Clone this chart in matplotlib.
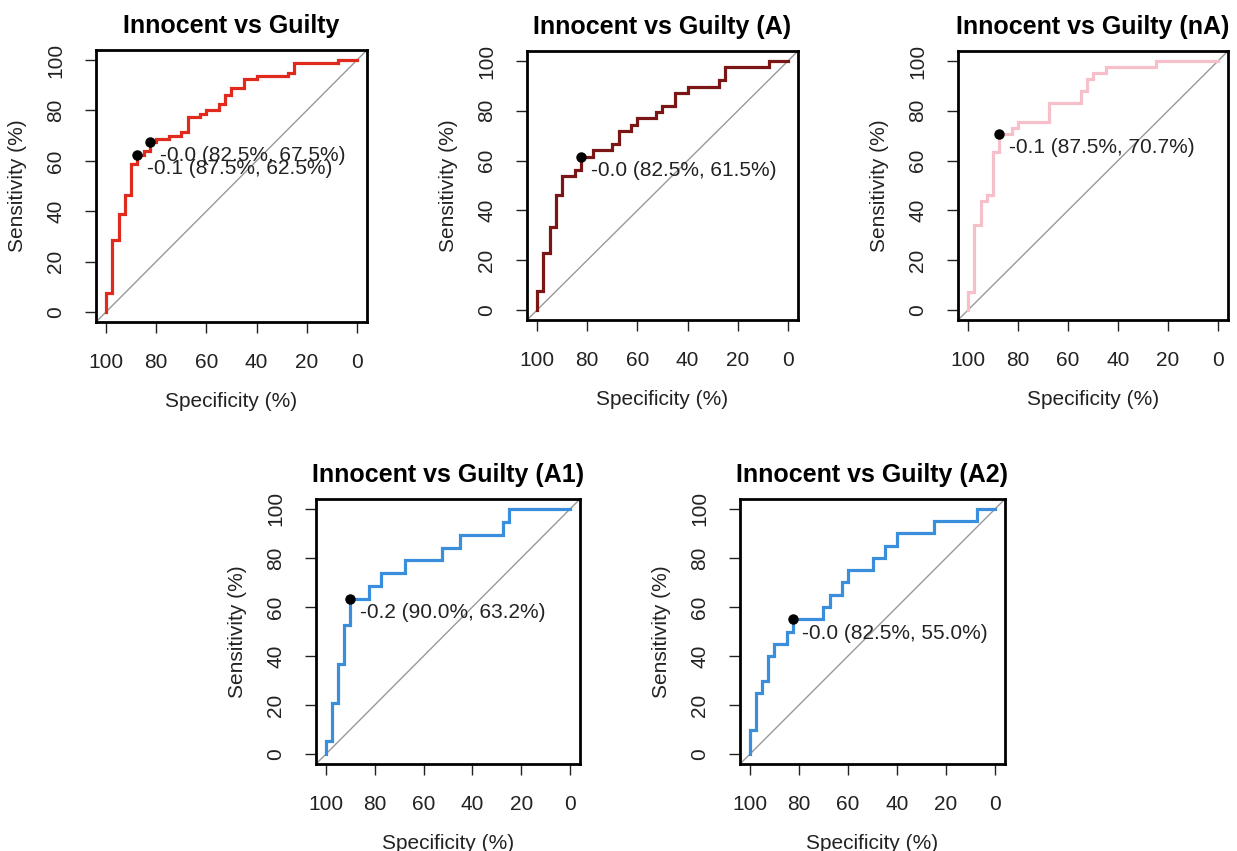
import matplotlib
matplotlib.use("Agg")
import matplotlib.pyplot as plt

plt.rcParams['font.family'] = ['Liberation Sans', 'DejaVu Sans']

# ROC corner points (specificity %, sensitivity %)
spec_all = [100, 100, 97.5, 97.5, 95, 95, 92.5, 92.5, 90, 90, 87.5, 87.5, 85, 85, 82.5, 82.5,
            80, 80, 75, 75, 70, 70, 67.5, 67.5, 62.5, 62.5, 60, 60, 55, 55, 52.5, 52.5,
            50, 50, 45, 45, 40, 40, 27.5, 27.5, 25, 25, 7.5, 7.5, 0]
sens_all = [0, 7.5, 7.5, 28.75, 28.75, 38.75, 38.75, 46.25, 46.25, 58.75, 58.75, 62.5, 62.5, 63.75,
            63.75, 67.5, 67.5, 68.75, 68.75, 70, 70, 71.25, 71.25, 77.5, 77.5, 78.75, 78.75, 80,
            80, 82.5, 82.5, 86.25, 86.25, 88.75, 88.75, 92.5, 92.5, 93.75, 93.75, 95, 95, 98.75,
            98.75, 100, 100]

spec_a = [100, 100, 97.5, 97.5, 95, 95, 92.5, 92.5, 90, 90, 85, 85, 82.5, 82.5, 77.5, 77.5,
          70, 70, 67.5, 67.5, 62.5, 62.5, 60, 60, 52.5, 52.5, 50, 50, 45, 45, 40, 40,
          27.5, 27.5, 25, 25, 7.5, 7.5, 0]
sens_a = [0, 7.69, 7.69, 23.08, 23.08, 33.33, 33.33, 46.15, 46.15, 53.85, 53.85, 56.41, 56.41,
          61.54, 61.54, 64.1, 64.1, 66.67, 66.67, 71.79, 71.79, 74.36, 74.36, 76.92, 76.92,
          79.49, 79.49, 82.05, 82.05, 87.18, 87.18, 89.74, 89.74, 92.31, 92.31, 97.44, 97.44,
          100, 100]

spec_na = [100, 100, 97.5, 97.5, 95, 95, 92.5, 92.5, 90, 90, 87.5, 87.5, 82.5, 82.5, 80, 80,
           67.5, 67.5, 55, 55, 52.5, 52.5, 50, 50, 45, 45, 25, 25, 0]
sens_na = [0, 7.32, 7.32, 34.15, 34.15, 43.9, 43.9, 46.34, 46.34, 63.41, 63.41, 70.73, 70.73,
           73.17, 73.17, 75.61, 75.61, 82.93, 82.93, 87.8, 87.8, 92.68, 92.68, 95.12, 95.12,
           97.56, 97.56, 100, 100]

spec_a1 = [100, 100, 97.5, 97.5, 95, 95, 92.5, 92.5, 90, 90, 82.5, 82.5, 77.5, 77.5, 67.5, 67.5,
           52.5, 52.5, 45, 45, 27.5, 27.5, 25, 25, 0]
sens_a1 = [0, 5.26, 5.26, 21.05, 21.05, 36.84, 36.84, 52.63, 52.63, 63.16, 63.16, 68.42, 68.42,
           73.68, 73.68, 78.95, 78.95, 84.21, 84.21, 89.47, 89.47, 94.74, 94.74, 100, 100]

spec_a2 = [100, 100, 97.5, 97.5, 95, 95, 92.5, 92.5, 90, 90, 85, 85, 82.5, 82.5, 70, 70,
           67.5, 67.5, 62.5, 62.5, 60, 60, 50, 50, 45, 45, 40, 40, 25, 25, 7.5, 7.5, 0]
sens_a2 = [0, 10, 10, 25, 25, 30, 30, 40, 40, 45, 45, 50, 50, 55, 55, 60, 60, 65, 65, 70, 70,
           75, 75, 80, 80, 85, 85, 90, 90, 95, 95, 100, 100]

# best thresholds: (threshold, specificity, sensitivity)
thr_all = [(-0.0, 82.5, 67.5), (-0.1, 87.5, 62.5)]
thr_a = [(-0.0, 82.5, 61.5)]
thr_na = [(-0.1, 87.5, 70.7)]
thr_a1 = [(-0.2, 90.0, 63.2)]
thr_a2 = [(-0.0, 82.5, 55.0)]

titles = ["Innocent vs Guilty", "Innocent vs Guilty (A)", "Innocent vs Guilty (nA)",
          "Innocent vs Guilty (A1)", "Innocent vs Guilty (A2)"]
colors = ["#E02A1E", "#7A1616", "#F5C0CA", "#3A8EDB", "#3A8EDB"]

panels = [(spec_all, sens_all, thr_all), (spec_a, sens_a, thr_a), (spec_na, sens_na, thr_na),
          (spec_a1, sens_a1, thr_a1), (spec_a2, sens_a2, thr_a2)]

W, H = 1237, 851
# axes boxes in pixels: left, top, right, bottom
boxes = [(96, 50, 367, 322), (527, 51, 798, 320), (958, 51, 1228, 320),
         (316, 499, 580, 764), (740, 499, 1005, 764)]

fig = plt.figure(figsize=(W / 100, H / 100), dpi=100)

for (spec, sens, thr), title, col, (l, t, r, b) in zip(panels, titles, colors, boxes):
    ax = fig.add_axes([l / W, 1 - b / H, (r - l) / W, (b - t) / H])
    ax.axline((100, 0), (0, 100), color="#999999", lw=1)
    ax.plot(spec, sens, color=col, lw=2.3, solid_joinstyle="miter")
    for th, sp, se in thr:
        ax.plot(sp, se, "o", color="black", ms=6.5, zorder=5)
        ax.annotate(f"{th:.1f} ({sp:.1f}%, {se:.1f}%)", (sp, se), xytext=(7, -10),
                    textcoords="offset points", ha="left", va="center", fontsize=15,
                    color="#222222")
    ax.set_xlim(104, -4)
    ax.set_ylim(-4, 104)
    ax.set_xticks([100, 80, 60, 40, 20, 0])
    ax.set_yticks([0, 20, 40, 60, 80, 100])
    ax.tick_params(length=8, width=1, labelsize=15, pad=14, color="#222222", labelcolor="#222222")
    for lab in ax.get_yticklabels():
        lab.set_rotation(90)
        lab.set_va("center")
    for s in ax.spines.values():
        s.set_linewidth(2)
    ax.set_xlabel("Specificity (%)", fontsize=15, labelpad=15, color="#222222")
    ax.set_ylabel("Sensitivity (%)", fontsize=15, labelpad=14, color="#222222")
    ax.set_title(title, fontsize=18, fontweight="bold", pad=12)

fig.savefig("out.png", dpi=100)
